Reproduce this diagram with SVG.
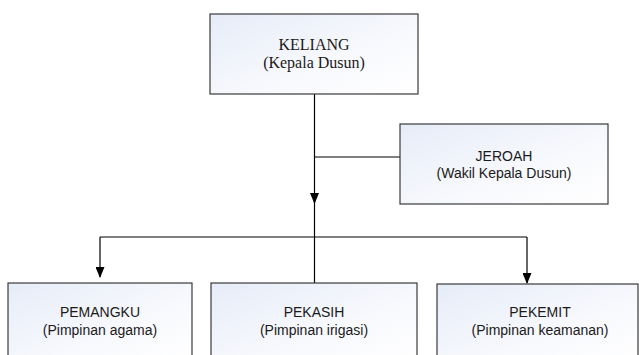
<svg xmlns="http://www.w3.org/2000/svg" width="639" height="355" viewBox="0 0 639 355">
<style>
.box{fill:url(#g);stroke:#3a3a3a;stroke-width:1.2}
.s{font-family:"Liberation Sans",Arial,sans-serif;font-size:14px;fill:#1a1a1a;text-anchor:middle}
.t{font-family:"Liberation Serif","Times New Roman",serif;font-size:16px;fill:#1a1a1a;text-anchor:middle}
.c{stroke:#000;stroke-width:1.2;fill:none}
</style>
<defs>
<linearGradient id="g" x1="0" y1="0" x2="1" y2="1">
<stop offset="0" stop-color="#e6ecf8"/>
<stop offset="0.6" stop-color="#f8f9fd"/>
<stop offset="1" stop-color="#ffffff"/>
</linearGradient>
<marker id="a" markerWidth="11" markerHeight="9" refX="10" refY="4.5" orient="auto" markerUnits="userSpaceOnUse">
<path d="M0,0 L11,4.5 L0,9 Z" fill="#000"/>
</marker>
</defs>
<rect width="639" height="355" fill="#fff"/>
<g id="connectors">
<path class="c" d="M314.5,94 V203" marker-end="url(#a)"/>
<path class="c" d="M314.5,200 V283"/>
<path class="c" d="M314.5,157 H400"/>
<path class="c" d="M100,237 H527"/>
<path class="c" d="M100,237 V277" marker-end="url(#a)"/>
<path class="c" d="M527,237 V283" marker-end="url(#a)"/>
</g>
<g id="keliang">
<rect class="box" x="210" y="14" width="208" height="80"/>
<text class="t" x="314" y="50">KELIANG</text>
<text class="t" x="314" y="68">(Kepala Dusun)</text>
</g>
<g id="jeroah">
<rect class="box" x="400" y="124" width="208" height="80"/>
<text class="s" x="504" y="161">JEROAH</text>
<text class="s" x="504" y="178">(Wakil Kepala Dusun)</text>
</g>
<g id="pemangku">
<rect class="box" x="8" y="283" width="184" height="80"/>
<text class="s" x="100" y="317">PEMANGKU</text>
<text class="s" x="100" y="335">(Pimpinan agama)</text>
</g>
<g id="pekasih">
<rect class="box" x="211" y="283" width="206" height="80"/>
<text class="s" x="314" y="317">PEKASIH</text>
<text class="s" x="314" y="335">(Pimpinan irigasi)</text>
</g>
<g id="pekemit">
<rect class="box" x="437" y="284" width="201" height="80"/>
<text class="s" x="540" y="317">PEKEMIT</text>
<text class="s" x="540" y="335">(Pimpinan keamanan)</text>
</g>
</svg>
